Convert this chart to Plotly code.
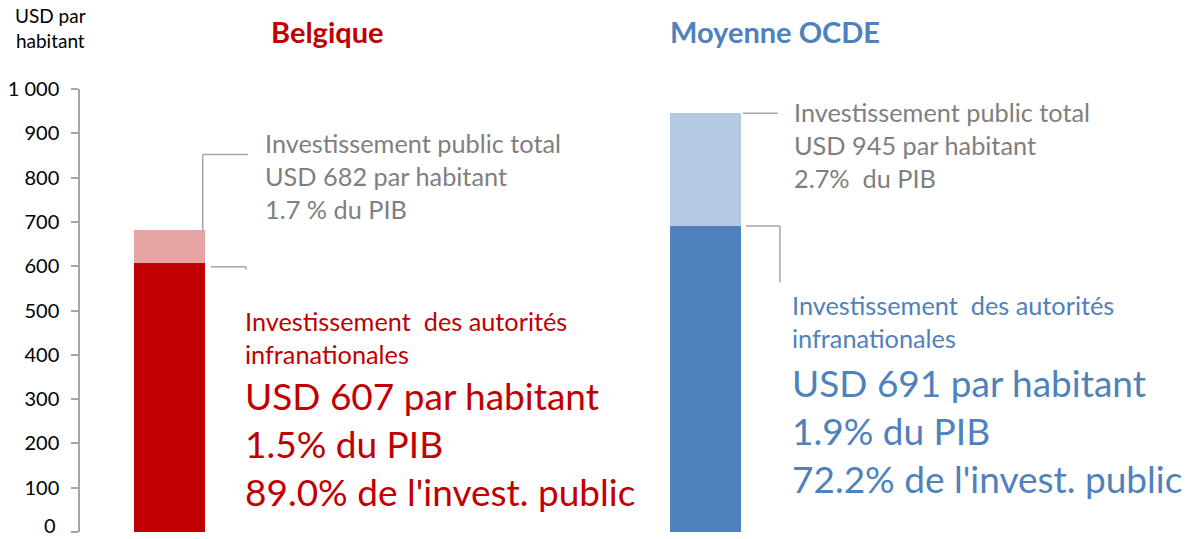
import plotly.graph_objects as go

# ---- data ----
categories = ["Belgique", "Moyenne OCDE"]
total_invest = [682, 945]            # USD par habitant, investissement public total
subnat_invest = [607, 691]           # USD par habitant, autorités infranationales
total_gdp_labels = ["1.7 % du PIB", "2.7%  du PIB"]
subnat_gdp = [1.5, 1.9]              # % du PIB
subnat_share = [89.0, 72.2]          # % de l'invest. public
y_ticks = [0, 100, 200, 300, 400, 500, 600, 700, 800, 900, 1000]

# ---- styles ----
dark_colors = ["#C00000", "#4F81BD"]
light_colors = ["#E6A4A4", "#B3C8E1"]
grey_text = "#7F7F7F"
line_grey = "#A6A6A6"
FONT = "Lato"
bar_w = 0.1325

remainder = [t - s for t, s in zip(total_invest, subnat_invest)]

def fmt_tick(v):
    return f"{v:,}".replace(",", " ")

fig = go.Figure()
fig.add_bar(x=categories, y=subnat_invest, marker_color=dark_colors, width=bar_w,
            marker_line_width=0, showlegend=False, hoverinfo="skip")
fig.add_bar(x=categories, y=remainder, marker_color=light_colors, width=bar_w,
            marker_line_width=0, showlegend=False, hoverinfo="skip")

# connector lines (offsets in category units relative to bar centre)
shapes = []
lc = dict(color=line_grey, width=1.5)
# Belgique total
shapes.append(dict(type="line", xref="x", yref="y", x0=0 + 0.062, x1=0 + 0.062,
                   y0=total_invest[0], y1=total_invest[0] + 170, line=lc))
shapes.append(dict(type="line", xref="x", yref="y", x0=0 + 0.062, x1=0 + 0.1465,
                   y0=total_invest[0] + 170, y1=total_invest[0] + 170, line=lc))
# Belgique subnational
shapes.append(dict(type="line", xref="x", yref="y", x0=0 + 0.0774, x1=0 + 0.1427,
                   y0=subnat_invest[0] - 8, y1=subnat_invest[0] - 8, line=lc))
shapes.append(dict(type="line", xref="x", yref="y", x0=0 + 0.1427, x1=0 + 0.1427,
                   y0=subnat_invest[0] - 8, y1=subnat_invest[0] - 15, line=lc))
# Moyenne total
shapes.append(dict(type="line", xref="x", yref="y", x0=1 + 0.070, x1=1 + 0.135,
                   y0=total_invest[1], y1=total_invest[1], line=lc))
# Moyenne subnational
shapes.append(dict(type="line", xref="x", yref="y", x0=1 + 0.0756, x1=1 + 0.139,
                   y0=subnat_invest[1], y1=subnat_invest[1], line=lc))
shapes.append(dict(type="line", xref="x", yref="y", x0=1 + 0.139, x1=1 + 0.139,
                   y0=subnat_invest[1], y1=subnat_invest[1] - 127, line=lc))

annotations = []
# titles
title_x = [0.2232, 0.6256]
for i, cat in enumerate(categories):
    annotations.append(dict(text=f"<b>{cat}</b>", xref="paper", yref="paper",
                            x=title_x[i], y=1.129, showarrow=False,
                            font=dict(family=FONT, size=29, color=dark_colors[i]),
                            xanchor="center", yanchor="middle"))
# y axis title
annotations.append(dict(text="USD par<br>habitant", xref="paper", yref="paper",
                        x=-0.0265, y=1.1377, showarrow=False, align="center",
                        font=dict(family=FONT, size=19, color="#000000"),
                        xanchor="center", yanchor="middle"))
# zero tick label, nudged up so it stays inside the picture
annotations.append(dict(text=fmt_tick(y_ticks[0]), xref="paper", yref="y",
                        x=-0.0198, y=y_ticks[0], showarrow=False,
                        xanchor="right", yanchor="bottom", yshift=-7,
                        font=dict(family=FONT, size=20, color="#000000")))

grey_pos = [(0.1745, 804), (1.1624, 874)]
small_pos = [(0.1374, 440), (1.1574, 476)]
big_pos = [(0.1374, 199), (1.1574, 230)]
for i in range(len(categories)):
    annotations.append(dict(
        text=f"Investissement public total<br>USD {total_invest[i]} par habitant<br>{total_gdp_labels[i]}",
        xref="x", yref="y", x=grey_pos[i][0], y=grey_pos[i][1], showarrow=False,
        align="left", xanchor="left", yanchor="middle",
        font=dict(family=FONT, size=25.3, color=grey_text)))
    annotations.append(dict(
        text="Investissement  des autorités<br>infranationales",
        xref="x", yref="y", x=small_pos[i][0], y=small_pos[i][1], showarrow=False,
        align="left", xanchor="left", yanchor="middle",
        font=dict(family=FONT, size=25.3, color=dark_colors[i])))
    annotations.append(dict(
        text=(f"USD {subnat_invest[i]} par habitant<br>{subnat_gdp[i]:.1f}% du PIB"
              f"<br>{subnat_share[i]:.1f}% de l'invest. public"),
        xref="x", yref="y", x=big_pos[i][0], y=big_pos[i][1], showarrow=False,
        align="left", xanchor="left", yanchor="middle",
        font=dict(family=FONT, size=37, color=dark_colors[i])))

fig.update_layout(
    barmode="stack",
    width=1201, height=539,
    margin=dict(l=80, r=10, t=89, b=7),
    paper_bgcolor="white", plot_bgcolor="white",
    shapes=shapes, annotations=annotations,
    bargap=0,
    font=dict(family=FONT, color="#000000"),
)
fig.update_xaxes(type="category", range=[-0.167, 1.906], visible=False,
                 showgrid=False, zeroline=False)
fig.update_yaxes(range=[0, 1000], tickvals=y_ticks,
                 ticktext=["" if v == y_ticks[0] else fmt_tick(v) for v in y_ticks],
                 showgrid=False, zeroline=False, showline=True, linecolor=line_grey,
                 linewidth=1.5, ticks="outside", ticklen=7, tickcolor=line_grey,
                 tickwidth=1.5, ticklabelstandoff=8,
                 automargin=False,
                 tickfont=dict(family=FONT, size=20, color="#000000"))

fig.write_html("out.html", config={"displayModeBar": False},
               post_script="document.body.style.margin='0';document.body.style.overflow='hidden';")
